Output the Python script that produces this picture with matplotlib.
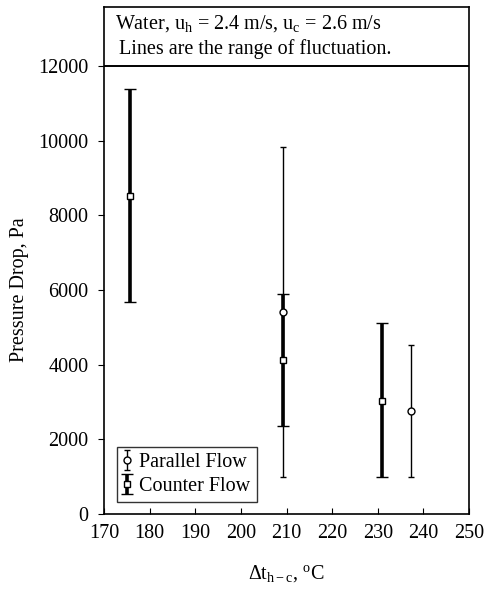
import matplotlib
matplotlib.use("Agg")
import matplotlib.pyplot as plt

# ---- data ----
counter_x = [175.7, 209.2, 230.9]
counter_mean = [8520, 4130, 3030]
counter_low = [5680, 2360, 1000]
counter_high = [11380, 5890, 5120]

parallel_x = [209.2, 237.2]
parallel_mean = [5410, 2760]
parallel_low = [1000, 1000]
parallel_high = [9830, 4530]

xticks = [170, 180, 190, 200, 210, 220, 230, 240, 250]
yticks = [0, 2000, 4000, 6000, 8000, 10000, 12000]

plt.rcParams['font.family'] = ['Liberation Serif', 'DejaVu Serif']
plt.rcParams['mathtext.fontset'] = 'custom'
plt.rcParams['mathtext.rm'] = 'Liberation Serif'
plt.rcParams['mathtext.it'] = 'Liberation Serif:italic'

fig = plt.figure(figsize=(4.87, 5.91), dpi=100)
ax = fig.add_axes([104/487, 1-514/591, (469-104)/487, (514-7)/591])

FS = 14.5

pe = ax.errorbar(parallel_x, parallel_mean,
                 yerr=[[m - l for m, l in zip(parallel_mean, parallel_low)],
                       [h - m for m, h in zip(parallel_mean, parallel_high)]],
                 fmt='o', color='black', mfc='white', mec='black', ms=5, mew=1.0,
                 elinewidth=1.0, capsize=2.5, capthick=1.2, label='Parallel Flow', zorder=3)
ce = ax.errorbar(counter_x, counter_mean,
                 yerr=[[m - l for m, l in zip(counter_mean, counter_low)],
                       [h - m for m, h in zip(counter_mean, counter_high)]],
                 fmt='s', color='black', mfc='white', mec='black', ms=5, mew=1.0,
                 elinewidth=2.6, capsize=4.5, capthick=2.4, label='Counter Flow', zorder=3)

ax.set_xlim(170, 250)
ax.set_ylim(0, 13580)
ax.set_xticks(xticks)
ax.set_yticks(yticks)
ax.tick_params(axis='x', direction='in', length=4, labelsize=FS, pad=7)
ax.tick_params(axis='y', direction='out', length=4, labelsize=FS, pad=7)
for s in ax.spines.values():
    s.set_linewidth(1.2)

# header box
ax.axhline(12000, color='black', lw=1.4)
ax.text(0.03, 0.968, r'Water, u$_\mathrm{h}$ = 2.4 m/s, u$_\mathrm{c}$ = 2.6 m/s',
        transform=ax.transAxes, fontsize=FS, va='center', ha='left')
ax.text(0.04, 0.918, 'Lines are the range of fluctuation.',
        transform=ax.transAxes, fontsize=FS, va='center', ha='left')

ax.set_ylabel('Pressure Drop, Pa', fontsize=FS)
ax.yaxis.set_label_coords(-0.205, 6000 / 13580)
ax.set_xlabel(r'$\Delta$t$_{\mathrm{h-c}}$, $^\mathrm{o}$C', fontsize=FS, labelpad=15)

leg = ax.legend(handles=[pe, ce], loc='lower left', bbox_to_anchor=(0.02, 0.012),
                fontsize=FS, frameon=True, fancybox=False, edgecolor='black',
                handlelength=0.4, handletextpad=0.4, borderpad=0.3, labelspacing=0.25,
                borderaxespad=0.3)
leg.get_frame().set_linewidth(1.0)

fig.savefig('out.png', dpi=100)
